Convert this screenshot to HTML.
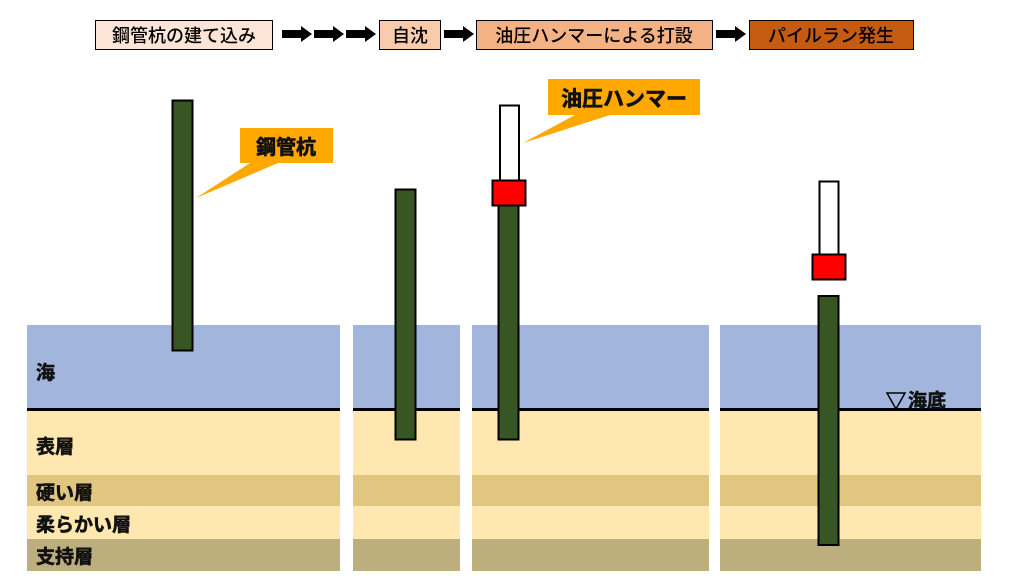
<!DOCTYPE html>
<html><head><meta charset="utf-8"><style>
html,body{margin:0;padding:0;background:#fff;}
svg{display:block;}
text{font-family:"Liberation Sans","Noto Sans CJK JP",sans-serif;font-weight:bold;}
.n{font-family:"Liberation Sans","Noto Sans CJK JP",sans-serif;font-weight:500;}
</style></head><body>
<svg width="1024" height="576" viewBox="0 0 1024 576" xmlns="http://www.w3.org/2000/svg">
<defs>
<g id="arr"><polygon points="0,30 19,30 19,26 30,34 19,42 19,38 0,38" fill="#000"/></g>
</defs>
<rect x="95.5" y="20.5" width="177" height="29" fill="#FCE4D6" stroke="#000"/>
<text class="n" x="184" y="42" font-size="18" text-anchor="middle" fill="#000">鋼管杭の建て込み</text>
<use href="#arr" x="282"/><use href="#arr" x="314"/><use href="#arr" x="346"/>
<rect x="379.5" y="20.5" width="61" height="29" fill="#F8CBAD" stroke="#000"/>
<text class="n" x="410" y="42" font-size="18" text-anchor="middle">自沈</text>
<use href="#arr" x="444"/>
<rect x="476.5" y="20.5" width="236" height="29" fill="#F4B183" stroke="#000"/>
<text class="n" x="594" y="42" font-size="18" text-anchor="middle">油圧ハンマーによる打設</text>
<use href="#arr" x="716"/>
<rect x="749.5" y="20.5" width="164" height="29" fill="#C55A11" stroke="#000"/>
<text class="n" x="831" y="42" font-size="18" text-anchor="middle">パイルラン発生</text>

<g>
<rect x="27" y="325" width="313" height="85" fill="#A2B6DD"/>
<rect x="27" y="410" width="313" height="65" fill="#FFE8B0"/>
<rect x="27" y="475" width="313" height="31" fill="#E0C680"/>
<rect x="27" y="506" width="313" height="33" fill="#FFE8B0"/>
<rect x="27" y="539" width="313" height="32" fill="#BDAE7E"/>
<line x1="27" y1="409.5" x2="340" y2="409.5" stroke="#000" stroke-width="3"/>

<rect x="353" y="325" width="107" height="85" fill="#A2B6DD"/>
<rect x="353" y="410" width="107" height="65" fill="#FFE8B0"/>
<rect x="353" y="475" width="107" height="31" fill="#E0C680"/>
<rect x="353" y="506" width="107" height="33" fill="#FFE8B0"/>
<rect x="353" y="539" width="107" height="32" fill="#BDAE7E"/>
<line x1="353" y1="409.5" x2="460" y2="409.5" stroke="#000" stroke-width="3"/>

<rect x="472" y="325" width="237" height="85" fill="#A2B6DD"/>
<rect x="472" y="410" width="237" height="65" fill="#FFE8B0"/>
<rect x="472" y="475" width="237" height="31" fill="#E0C680"/>
<rect x="472" y="506" width="237" height="33" fill="#FFE8B0"/>
<rect x="472" y="539" width="237" height="32" fill="#BDAE7E"/>
<line x1="472" y1="409.5" x2="709" y2="409.5" stroke="#000" stroke-width="3"/>

<rect x="720" y="325" width="261" height="85" fill="#A2B6DD"/>
<rect x="720" y="410" width="261" height="65" fill="#FFE8B0"/>
<rect x="720" y="475" width="261" height="31" fill="#E0C680"/>
<rect x="720" y="506" width="261" height="33" fill="#FFE8B0"/>
<rect x="720" y="539" width="261" height="32" fill="#BDAE7E"/>
<line x1="720" y1="409.5" x2="981" y2="409.5" stroke="#000" stroke-width="3"/>
</g>

<g font-size="19" fill="#111" stroke="#111" stroke-width="0.6">
<text x="36" y="379">海</text>
<text x="36" y="453">表層</text>
<text x="36" y="499">硬い層</text>
<text x="36" y="531">柔らかい層</text>
<text x="36" y="563">支持層</text>
</g>

<rect x="172.5" y="100.5" width="20" height="250" fill="#375623" stroke="#000" stroke-width="2"/>
<rect x="395.5" y="189.5" width="20" height="250" fill="#375623" stroke="#000" stroke-width="2"/>

<rect x="500" y="105.5" width="19" height="75" fill="#fff" stroke="#000" stroke-width="2"/>
<rect x="498.5" y="205" width="20" height="234.5" fill="#375623" stroke="#000" stroke-width="2"/>
<rect x="492.5" y="180.5" width="33" height="25" fill="#FF0000" stroke="#000" stroke-width="2"/>

<rect x="819.5" y="181.5" width="19" height="73" fill="#fff" stroke="#000" stroke-width="2"/>
<rect x="812.5" y="254.5" width="33" height="25" fill="#FF0000" stroke="#000" stroke-width="2"/>
<rect x="818.5" y="296" width="20" height="249" fill="#375623" stroke="#000" stroke-width="2"/>

<polygon points="250,163 278,163 196,198" fill="#FFA800"/>
<rect x="240" y="128" width="93" height="35" fill="#FFA800"/>
<text x="286" y="154" font-size="20" text-anchor="middle" fill="#111" stroke="#111" stroke-width="0.6">鋼管杭</text>

<polygon points="575,115 610,115 523,143" fill="#FFA800"/>
<rect x="548" y="79" width="152" height="36" fill="#FFA800"/>
<text x="624" y="106" font-size="21" text-anchor="middle" fill="#111" stroke="#111" stroke-width="0.6">油圧ハンマー</text>

<polygon points="887,393 905,393 896,409" fill="none" stroke="#000" stroke-width="1.5"/>
<text x="908" y="407" font-size="19" fill="#111" stroke="#111" stroke-width="0.6">海底</text>
</svg>
</body></html>
